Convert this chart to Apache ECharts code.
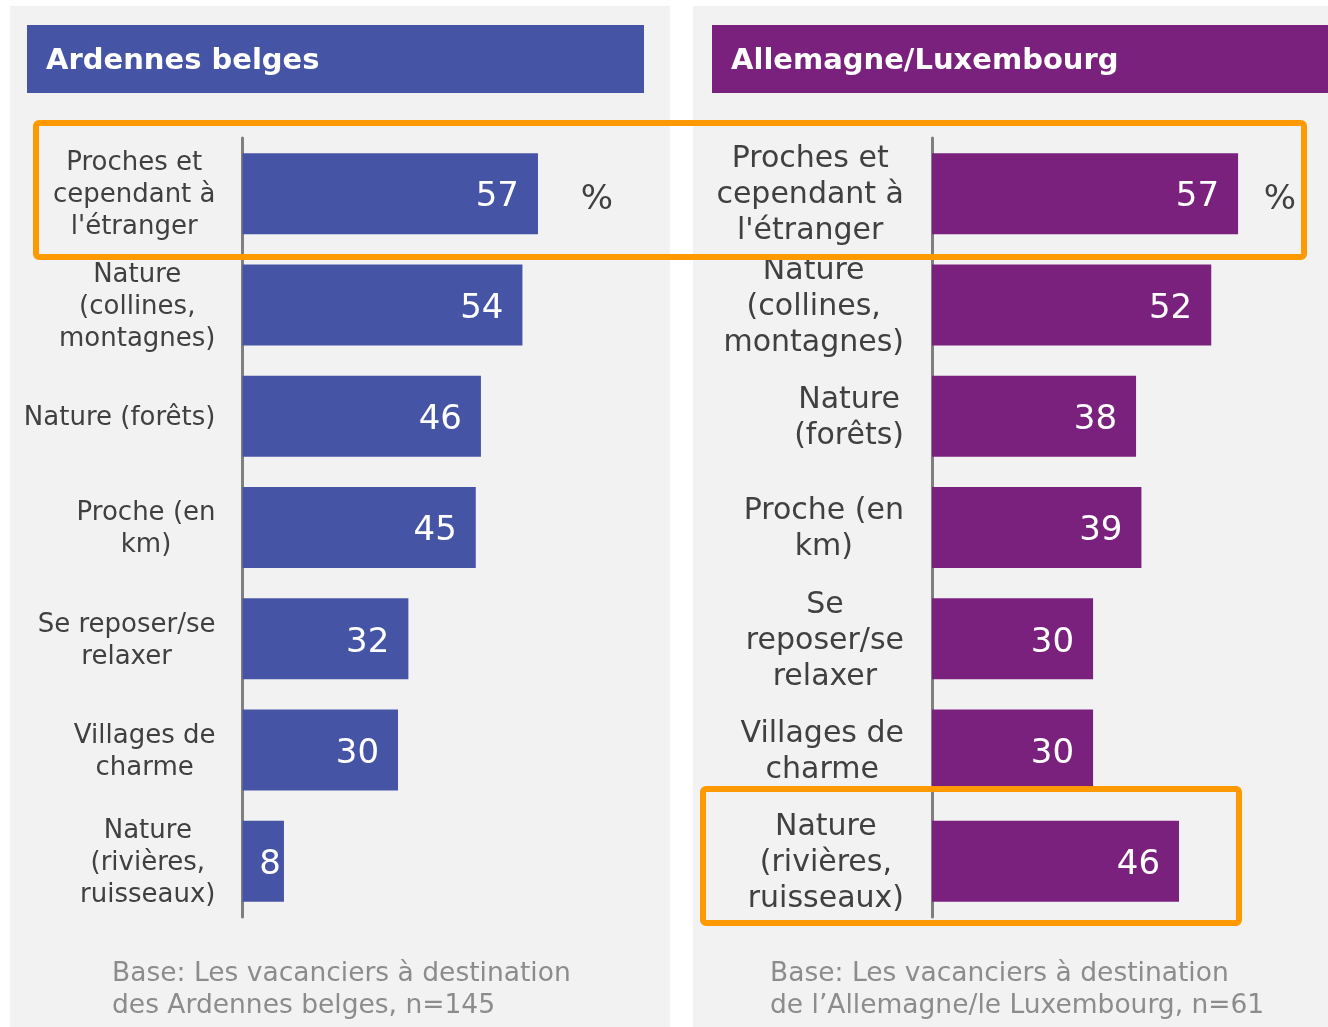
<!DOCTYPE html>
<html>
<head>
<meta charset="utf-8">
<title>Ardennes belges / Allemagne-Luxembourg</title>
<script src="https://cdn.jsdelivr.net/npm/echarts@6/dist/echarts.min.js"></script>
<style>
  html, body { margin: 0; padding: 0; background: #ffffff; }
  #chart { width: 1328px; height: 1027px; }
</style>
</head>
<body>
<div id="chart"></div>
<script>
// categories (line breaks as in the source)
const leftCategories = [
  "Proches et\ncependant à\nl'étranger",
  "Nature\n(collines,\nmontagnes)",
  "Nature (forêts)",
  "Proche (en\nkm)",
  "Se reposer/se\nrelaxer",
  "Villages de\ncharme",
  "Nature\n(rivières,\nruisseaux)",
];
const rightCategories = [
  "Proches et\ncependant à\nl'étranger",
  "Nature\n(collines,\nmontagnes)",
  "Nature\n(forêts)",
  "Proche (en\nkm)",
  "Se\nreposer/se\nrelaxer",
  "Villages de\ncharme",
  "Nature\n(rivières,\nruisseaux)",
];
// values in %
const leftValues = [57, 54, 46, 45, 32, 30, 8];
const rightValues = [57, 52, 38, 39, 30, 30, 46];

const leftTitle = "Ardennes belges";
const rightTitle = "Allemagne/Luxembourg";
const leftBase = "Base: Les vacanciers à destination\ndes Ardennes belges, n=145";
const rightBase = "Base: Les vacanciers à destination\nde l’Allemagne/le Luxembourg, n=61";

const FONT = "DejaVu Sans";
const BLUE = "#4654a5";
const PURPLE = "#7a217e";
const ORANGE = "#ff9900";
const PANEL = "#f2f2f2";

// center every line inside the label block (block itself is right aligned)
function catFormatter(value) {
  return value.split("\n").map((l) => "{c|" + l + "}").join("\n");
}

function barData(values) {
  return values.map((v) => {
    // small bars: label pushed to the bar end like in the source
    if (v < 10) return { value: v, label: { distance: 3 } };
    return v;
  });
}

function catAxis(gridIndex, cats, fontSize, lineHeight, margin) {
  return {
    type: "category",
    gridIndex: gridIndex,
    data: cats,
    inverse: true,
    axisLine: { show: true, lineStyle: { color: "#7f7f7f", width: 3 } },
    axisTick: { show: false },
    axisLabel: {
      margin: margin,
      formatter: catFormatter,
      padding: [4, 0, 0, 0],
      rich: {
        c: {
          align: "center",
          fontFamily: FONT,
          fontSize: fontSize,
          lineHeight: lineHeight,
          color: "#404040",
        },
      },
    },
  };
}

function barSeries(idx, values, color) {
  return {
    type: "bar",
    xAxisIndex: idx,
    yAxisIndex: idx,
    data: barData(values),
    barWidth: 81,
    itemStyle: { color: color },
    label: {
      show: true,
      position: "insideRight",
      distance: 19,
      offset: [0, 4],
      color: "#ffffff",
      fontFamily: FONT,
      fontSize: 34,
    },
    silent: true,
  };
}

const chart = echarts.init(document.getElementById("chart"));

chart.setOption({
  backgroundColor: "#ffffff",
  animation: false,
  grid: [
    { left: 242.5, top: 138, width: 414.7, height: 779 },
    { left: 932, top: 138, width: 375.9, height: 779 },
  ],
  xAxis: [
    { type: "value", gridIndex: 0, min: 0, max: 80, show: false },
    { type: "value", gridIndex: 1, min: 0, max: 70, show: false },
  ],
  yAxis: [
    catAxis(0, leftCategories, 26, 32, 27),
    catAxis(1, rightCategories, 30, 36, 28),
  ],
  series: [
    barSeries(0, leftValues, BLUE),
    barSeries(1, rightValues, PURPLE),
  ],
  graphic: [
    // panel backgrounds
    { type: "rect", z: -10, silent: true, shape: { x: 10, y: 6, width: 660, height: 1030 }, style: { fill: PANEL } },
    { type: "rect", z: -10, silent: true, shape: { x: 693, y: 6, width: 640, height: 1030 }, style: { fill: PANEL } },
    // header bars
    { type: "rect", z: -5, silent: true, shape: { x: 27, y: 25, width: 617, height: 68 }, style: { fill: BLUE } },
    { type: "rect", z: -5, silent: true, shape: { x: 712, y: 25, width: 620, height: 68 }, style: { fill: PURPLE } },
    {
      type: "text", x: 46, y: 61, silent: true,
      style: { text: leftTitle, fill: "#ffffff", font: "bold 29px '" + FONT + "'", verticalAlign: "middle" },
    },
    {
      type: "text", x: 731, y: 61, silent: true,
      style: { text: rightTitle, fill: "#ffffff", font: "bold 29px '" + FONT + "'", verticalAlign: "middle" },
    },
    // percent signs
    {
      type: "text", x: 597, y: 200, silent: true,
      style: { text: "%", fill: "#404040", font: "34px '" + FONT + "'", align: "center", verticalAlign: "middle" },
    },
    {
      type: "text", x: 1280, y: 200, silent: true,
      style: { text: "%", fill: "#404040", font: "34px '" + FONT + "'", align: "center", verticalAlign: "middle" },
    },
    // footers
    {
      type: "text", x: 112, y: 958, silent: true,
      style: { text: leftBase, fill: "#8c8c8c", font: "26.5px '" + FONT + "'", lineHeight: 32 },
    },
    {
      type: "text", x: 770, y: 958, silent: true,
      style: { text: rightBase, fill: "#8c8c8c", font: "26.5px '" + FONT + "'", lineHeight: 32 },
    },
    // orange highlight boxes
    {
      type: "rect", z: 100, silent: true,
      shape: { x: 36, y: 123, width: 1268, height: 134, r: 3 },
      style: { fill: "none", stroke: ORANGE, lineWidth: 6 },
    },
    {
      type: "rect", z: 100, silent: true,
      shape: { x: 703, y: 789, width: 536, height: 134, r: 3 },
      style: { fill: "none", stroke: ORANGE, lineWidth: 6 },
    },
  ],
});
</script>
</body>
</html>
